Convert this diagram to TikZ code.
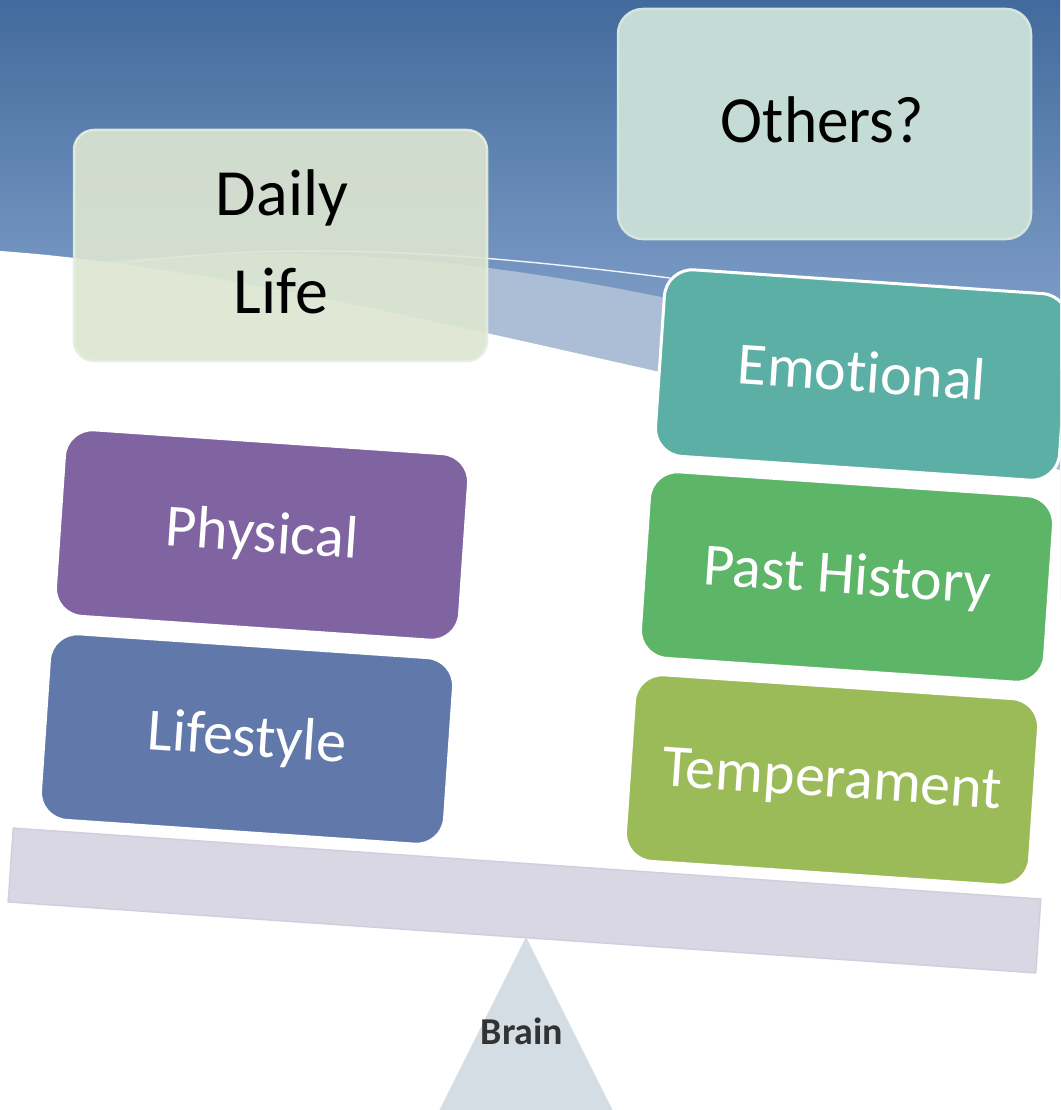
\documentclass[tikz,border=0pt]{standalone}
\usepackage{fontspec}
\setmainfont{Carlito}[Ligatures=CommonOff]
\definecolor{bgtop}{HTML}{426A9C}
\definecolor{bgmid}{HTML}{7A9AC5}
\definecolor{swoosh}{HTML}{ABBED5}
\definecolor{othersfill}{HTML}{C5DBD6}
\definecolor{othersline}{HTML}{D3E5DC}
\definecolor{dailyfill}{HTML}{DDE6D1}
\definecolor{dailyline}{HTML}{E6EEDF}
\definecolor{physcol}{HTML}{8064A2}
\definecolor{lifecol}{HTML}{6079AA}
\definecolor{emocol}{HTML}{5CAFA5}
\definecolor{pastcol}{HTML}{5DB668}
\definecolor{tempcol}{HTML}{9BBB59}
\definecolor{beamcol}{HTML}{DAD7E4}
\definecolor{beamline}{HTML}{D2CEDE}
\definecolor{fulcrum}{HTML}{D3DDE3}
\definecolor{braintext}{HTML}{333333}
\begin{document}
\begin{tikzpicture}[x=1pt,y=-1pt,
  factor/.style={rectangle, rounded corners=28pt, minimum width=405pt,
    minimum height=187pt, inner sep=0pt, rotate=-3.9, draw=white,
    line width=3pt, text=white, font=\fontsize{60}{72}\selectfont,
    text height=38pt, text depth=4pt},
  softbox/.style={rectangle, minimum width=413pt, inner sep=0pt, line width=2.5pt},
  bigtext/.style={anchor=base, inner sep=0pt, text=black, font=\fontsize{66}{80}\selectfont}]
\useasboundingbox (0,0) rectangle (1060,1110);
\clip (0,0) rectangle (1060,1110);

% sky background with the light swoosh and the white ground
\shade[top color=bgtop, bottom color=bgmid] (0,0) rectangle (1060,300);
\fill[bgmid] (0,299) rectangle (1060,600);
\fill[swoosh] (0,251) -- (100,262) .. controls (300,243) and (470,258) .. (661,297)
  -- (1060,370) -- (1060,600) -- (0,600) -- cycle;
\fill[white] (0,251) .. controls (200,265) and (450,325) .. (660,372)
  -- (1060,470) -- (1060,1110) -- (0,1110) -- cycle;
\draw[white, opacity=0.9, line width=1.4pt] (100,266) .. controls (280,240) and (450,250) .. (670,278);

% open categories at the top
\node[softbox, minimum height=230pt, rounded corners=25pt, fill=othersfill, draw=othersline]
  (othersbox) at (824.5,124) {};
\node[bigtext, xscale=0.96] (others) at (822.5,143) {Others?};
\node[softbox, minimum height=231pt, rounded corners=20pt, fill=dailyfill, fill opacity=0.9,
  draw=dailyline, draw opacity=0.9] (dailybox) at (280.5,245.5) {};
\node[bigtext] (daily) at (282,215) {Daily};
\node[bigtext] (life) at (281,313) {Life};

% weights on the two sides of the scale
\node[factor, fill=physcol] (physical) at (262,535) {Physical};
\node[factor, fill=lifecol] (lifestyle) at (247,739) {Lifestyle};
\node[factor, fill=emocol] (emotional) at (862,375) {Emotional};
\node[factor, fill=pastcol] (past) at (847,577) {Past History};
\node[factor, fill=tempcol] (temperament) at (832,780) {Temperament};

% fulcrum and beam
\fill[fulcrum] (526,937) -- (613.5,1112) -- (438.5,1112) -- cycle;
\node[anchor=base, inner sep=0pt, text=braintext, font=\fontsize{38}{42}\selectfont\bfseries]
  (brain) at (522,1044) {Brain};
\node[rectangle, minimum width=1030pt, minimum height=74pt, inner sep=0pt, rotate=-3.95,
  fill=beamcol, draw=beamline, line width=1.5pt] (beam) at (524.5,900.5) {};
\end{tikzpicture}
\end{document}
